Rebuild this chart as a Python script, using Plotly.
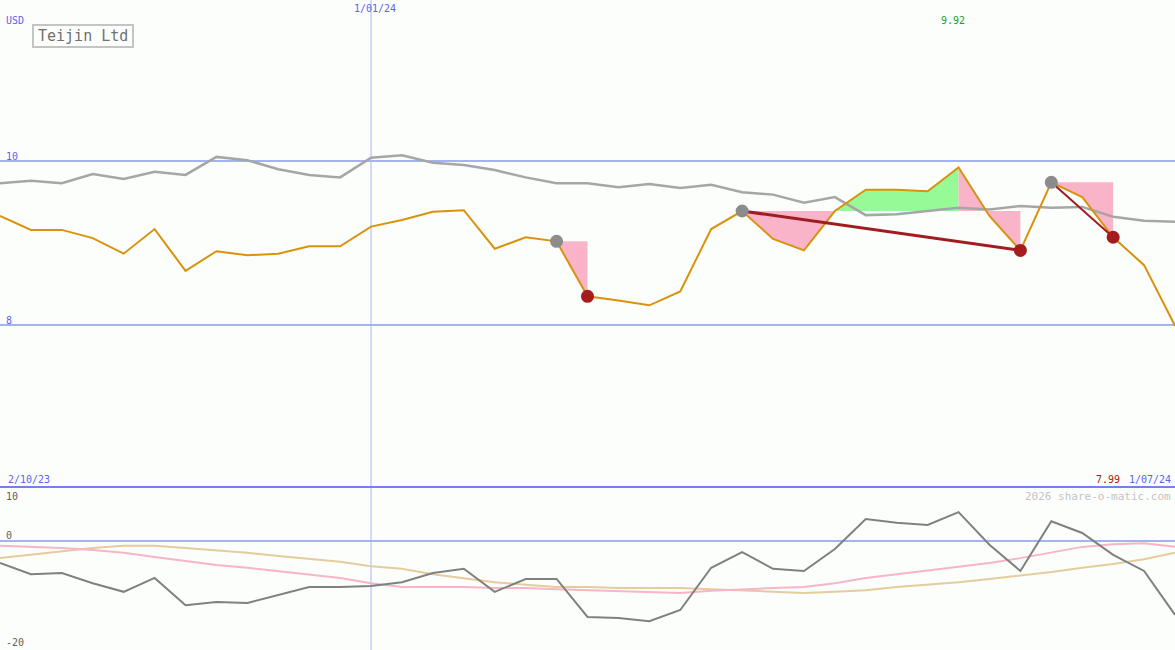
import plotly.graph_objects as go

# ---------------- data ----------------
weeks = list(range(39))  # weekly points from 2/10/23 to 1/07/24
price = [9.33, 9.16, 9.16, 9.06, 8.87, 9.17, 8.66, 8.90, 8.85, 8.87,
         8.96, 8.96, 9.20, 9.28, 9.38, 9.40, 8.93, 9.07, 9.02, 8.35,
         8.30, 8.24, 8.41, 9.17, 9.39, 9.05, 8.91, 9.39, 9.65, 9.65,
         9.63, 9.92, 9.33, 8.91, 9.74, 9.56, 9.07, 8.73, 7.99]
avg = [9.73, 9.76, 9.73, 9.84, 9.78, 9.87, 9.83, 10.05, 10.01, 9.90,
       9.83, 9.80, 10.04, 10.07, 9.98, 9.95, 9.89, 9.80, 9.73, 9.73,
       9.68, 9.72, 9.67, 9.71, 9.62, 9.59, 9.49, 9.56, 9.34, 9.35,
       9.39, 9.43, 9.41, 9.45, 9.43, 9.44, 9.32, 9.27, 9.26]
osc = [-4.1, -6.2, -6.0, -7.9, -9.5, -6.9, -12.0, -11.4, -11.6, -10.1,
       -8.6, -8.6, -8.4, -7.7, -6.0, -5.2, -9.5, -7.1, -7.1, -14.2,
       -14.4, -15.0, -12.9, -5.0, -2.1, -5.2, -5.6, -1.5, 4.1, 3.4,
       3.0, 5.4, -0.7, -5.6, 3.7, 1.5, -2.6, -5.6, -13.8]
osc_pink = [-0.9, -1.1, -1.3, -1.7, -2.2, -3.0, -3.7, -4.5, -5.0, -5.6,
            -6.2, -6.9, -7.9, -8.6, -8.6, -8.6, -8.8, -8.8, -9.0, -9.2,
            -9.3, -9.5, -9.7, -9.3, -9.0, -8.8, -8.6, -7.9, -6.9, -6.2,
            -5.4, -4.7, -4.1, -3.2, -2.1, -1.1, -0.6, -0.4, -1.1]
osc_tan = [-3.2, -2.6, -1.9, -1.3, -0.9, -0.9, -1.3, -1.7, -2.2, -2.8,
           -3.4, -3.9, -4.7, -5.2, -6.2, -6.9, -7.7, -8.2, -8.6, -8.6,
           -8.8, -8.8, -8.8, -9.0, -9.2, -9.5, -9.7, -9.5, -9.2, -8.6,
           -8.2, -7.7, -7.1, -6.5, -5.8, -5.0, -4.3, -3.4, -2.2]
peaks = [18, 24, 34]
troughs = [19, 33, 36]
# shaded segments: (start, end, reference index, colour)
segments = [(18, 19, 18, "pink"), (24, 27, 24, "pink"), (27, 31, 24, "green"),
            (31, 33, 24, "pink"), (34, 36, 34, "pink")]
year_mark = 12
y_ticks_top = [10, 8]
y_ticks_bot = [10, 0, -20]

W, H = 1175, 650
SPLIT = 487  # pixel row of separator

def px(x):
    return x / W

def py(y):
    return 1 - y / H

BLUE = "#5a64f0"
GRID = "#a4b2f4"
FILL = {"pink": "#fab4c9", "green": "#96fa96"}

fig = go.Figure()

# shaded areas
for a, b, r, c in segments:
    lvl = price[r]
    xs = weeks[a:b + 1] + [weeks[b], weeks[a]]
    ys = price[a:b + 1] + [lvl, lvl]
    fig.add_trace(go.Scatter(x=xs, y=ys, fill="toself", fillcolor=FILL[c],
                             mode="lines", line=dict(width=0),
                             hoverinfo="skip", showlegend=False))

fig.add_trace(go.Scatter(x=weeks, y=avg, mode="lines",
                         line=dict(color="#a6a6a6", width=2.5), showlegend=False))
fig.add_trace(go.Scatter(x=weeks, y=price, mode="lines",
                         line=dict(color="#d8920c", width=2), showlegend=False))

# peak-to-trough lines
for pk, tr, w in [(24, 33, 3), (34, 36, 2)]:
    fig.add_trace(go.Scatter(x=[weeks[pk], weeks[tr]], y=[price[pk], price[tr]],
                             mode="lines", line=dict(color="#a01c20", width=w),
                             showlegend=False))

fig.add_trace(go.Scatter(x=[weeks[i] for i in peaks], y=[price[i] for i in peaks],
                         mode="markers", marker=dict(color="#8c8c8c", size=13),
                         showlegend=False))
fig.add_trace(go.Scatter(x=[weeks[i] for i in troughs], y=[price[i] for i in troughs],
                         mode="markers", marker=dict(color="#a41c1c", size=13),
                         showlegend=False))

# lower panel
fig.add_trace(go.Scatter(x=weeks, y=osc_tan, mode="lines", yaxis="y2",
                         line=dict(color="#e4cc9c", width=2), showlegend=False))
fig.add_trace(go.Scatter(x=weeks, y=osc_pink, mode="lines", yaxis="y2",
                         line=dict(color="#f8b4c8", width=2), showlegend=False))
fig.add_trace(go.Scatter(x=weeks, y=osc, mode="lines", yaxis="y2",
                         line=dict(color="#808080", width=2), showlegend=False))

shapes = []
for v in y_ticks_top:
    shapes.append(dict(type="line", xref="paper", yref="y", x0=0, x1=1, y0=v, y1=v,
                       line=dict(color=GRID, width=2), layer="below"))
shapes.append(dict(type="line", xref="paper", yref="y2", x0=0, x1=1, y0=0, y1=0,
                   line=dict(color=GRID, width=2), layer="below"))
shapes.append(dict(type="line", xref="paper", yref="paper", x0=0, x1=1,
                   y0=py(SPLIT), y1=py(SPLIT), line=dict(color="#7480ec", width=2)))
shapes.append(dict(type="line", xref="x", yref="paper", x0=year_mark, x1=year_mark,
                   y0=0, y1=1, line=dict(color="#a8b4ff", width=1), layer="below"))
shapes.append(dict(type="rect", xref="paper", yref="paper",
                   x0=px(33), x1=px(133), y0=py(47), y1=py(25),
                   line=dict(color="#c4c4c4", width=2), fillcolor="rgba(0,0,0,0)"))

FONT = "DejaVu Sans Mono"
ann = []

def label(text, x, y, color, size=10, xanchor="left"):
    ann.append(dict(text=text, x=px(x), y=py(y), xref="paper", yref="paper",
                    showarrow=False, xanchor=xanchor, yanchor="middle",
                    font=dict(family=FONT, size=size, color=color)))

label("USD", 4, 20, BLUE)
label("Teijin Ltd", 83, 36, "#707070", size=15, xanchor="center")
label("1/01/24", 375, 9, BLUE, xanchor="center")
label("9.92", 953, 21, "#20a020", xanchor="center")
label("10", 4, 156, BLUE)
label("8", 4, 320, BLUE)
label("2/10/23", 6, 479, BLUE)
label("7.99", 1122, 479, "#a02020", xanchor="right")
label("1/07/24", 1173, 479, BLUE, xanchor="right")
label("2026 share-o-matic.com", 1173, 496, "#c4c4c4", size=11, xanchor="right")
label("10", 4, 496, "#606060")
label("0", 4, 535, "#606060")
label("-20", 4, 642, "#606060")

top_lo = 10 - (SPLIT - 161) / 82
top_hi = 10 + 161 / 82
bot_hi = (541 - SPLIT) / 5.35
bot_lo = -(H - 541) / 5.35

fig.update_layout(
    width=W, height=H, margin=dict(l=0, r=0, t=0, b=0),
    paper_bgcolor="#fcfefc", plot_bgcolor="#fcfefc",
    xaxis=dict(range=[0, 38], visible=False, fixedrange=True),
    yaxis=dict(domain=[py(SPLIT), 1], range=[top_lo, top_hi], visible=False),
    yaxis2=dict(domain=[0, py(SPLIT)], range=[bot_lo, bot_hi], visible=False),
    shapes=shapes, annotations=ann, showlegend=False,
)

fig.write_html("out.html", config={"displayModeBar": False},
               post_script="document.body.style.margin='0';document.body.style.overflow='hidden';")
